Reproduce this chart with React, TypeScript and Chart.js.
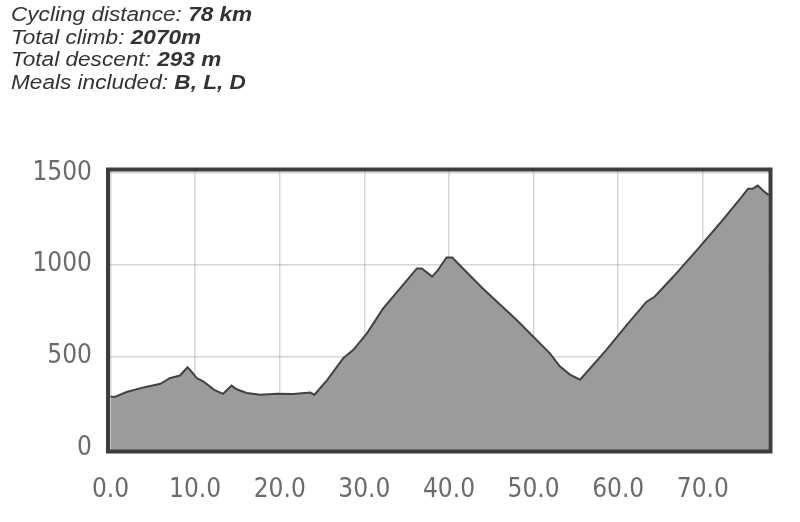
import React, { useEffect, useRef } from "react";
import { Chart, registerables } from "chart.js";

Chart.register(...registerables);

const km = [
  0, 0.5, 1.9, 3.9, 5.9, 7.0, 8.2, 9.1, 9.6, 10.2, 11.0, 12.2, 13.3, 14.3, 14.9, 16.1, 17.7, 19.7, 21.6, 23.6,
  24.1, 25.6, 27.5, 28.7, 30.3, 32.2, 34.2, 36.2, 36.8, 38.0, 38.7, 39.7, 40.4, 40.9, 44.0, 48.0, 51.9,
  53.1, 54.3, 55.5, 58.6, 61.0, 63.35, 64.3, 66.5, 69.3, 72.0, 74.4, 75.35, 75.9, 76.5, 77.1, 77.8,
];
const elevation = [
  280, 278, 305, 330, 350, 380, 395, 440, 415, 380, 362, 318, 295, 340, 320, 300, 290, 295, 294, 302,
  290, 370, 490, 535, 625, 760, 870, 980, 980, 935, 970, 1040, 1040, 1015, 870, 698, 517,
  445, 400, 372, 535, 670, 798, 825, 934, 1080, 1225, 1360, 1415, 1415, 1432, 1405, 1380,
];
const xTickValues = [0, 10, 20, 30, 40, 50, 60, 70];
const yTickValues = [0, 500, 1000, 1500];

const tickFont = { family: "'DejaVu Sans Condensed', 'DejaVu Sans'", size: 26 };

const boxPlugin = {
  id: "box",
  afterDraw(chart: any) {
    const { ctx, chartArea } = chart;
    ctx.save();
    ctx.strokeStyle = "#3d3d3d";
    ctx.lineWidth = 4;
    ctx.strokeRect(chartArea.left, chartArea.top, chartArea.right - chartArea.left, chartArea.bottom - chartArea.top);
    ctx.restore();
  },
};

export default function App() {
  const ref = useRef<HTMLCanvasElement>(null);
  useEffect(() => {
    if (!ref.current) return;
    const chart = new Chart(ref.current, {
      type: "line",
      data: {
        datasets: [
          {
            data: km.map((x, i) => ({ x, y: elevation[i] })),
            borderColor: "#424242",
            borderWidth: 2,
            backgroundColor: "#9b9b9b",
            fill: "start",
            pointRadius: 0,
            tension: 0,
          },
        ],
      },
      options: {
        animation: false,
        responsive: false,
        layout: { padding: { top: 169.5, right: 29.5, left: 0, bottom: 0 } },
        plugins: { legend: { display: false }, tooltip: { enabled: false } },
        scales: {
          x: {
            type: "linear",
            min: -0.3,
            max: 78,
            z: 1,
            afterFit: (axis: any) => {
              axis.height = 70.5;
            },
            afterBuildTicks: (axis: any) => {
              axis.ticks = xTickValues.map((v) => ({ value: v }));
            },
            grid: { color: "rgba(0,0,0,0.16)", lineWidth: 1.5, drawTicks: false },
            border: { display: false },
            ticks: {
              color: "#6b6b6b",
              font: tickFont,
              padding: 23,
              maxRotation: 0,
              autoSkip: false,
              callback: (v: any) => Number(v).toFixed(1),
            },
          },
          y: {
            type: "linear",
            min: -20,
            max: 1520,
            z: 1,
            afterFit: (axis: any) => {
              axis.width = 108;
            },
            afterBuildTicks: (axis: any) => {
              axis.ticks = yTickValues.map((v) => ({ value: v }));
            },
            grid: { color: "rgba(0,0,0,0.16)", lineWidth: 1.5, drawTicks: false },
            border: { display: false },
            ticks: {
              color: "#6b6b6b",
              font: tickFont,
              padding: 16,
              autoSkip: false,
              callback: (v: any) => String(v),
            },
          },
        },
      },
      plugins: [boxPlugin],
    });
    return () => chart.destroy();
  }, []);

  const line: React.CSSProperties = { whiteSpace: "nowrap" };
  return (
    <div>
      <canvas
        ref={ref}
        width={800}
        height={522}
        style={{ position: "absolute", left: 0, top: 0, width: 800, height: 522 }}
      />
      <div
        style={{
          position: "absolute",
          left: 11,
          top: 3,
          font: "italic 20px 'Liberation Sans', Arial, sans-serif",
          lineHeight: "22.7px",
          color: "#333",
          transform: "scaleX(1.13)",
          transformOrigin: "0 0",
        }}
      >
        <div style={line}>
          Cycling distance: <b>78 km</b>
        </div>
        <div style={line}>
          Total climb: <b>2070m</b>
        </div>
        <div style={line}>
          Total descent: <b>293 m</b>
        </div>
        <div style={line}>
          Meals included: <b>B, L, D</b>
        </div>
      </div>
    </div>
  );
}
